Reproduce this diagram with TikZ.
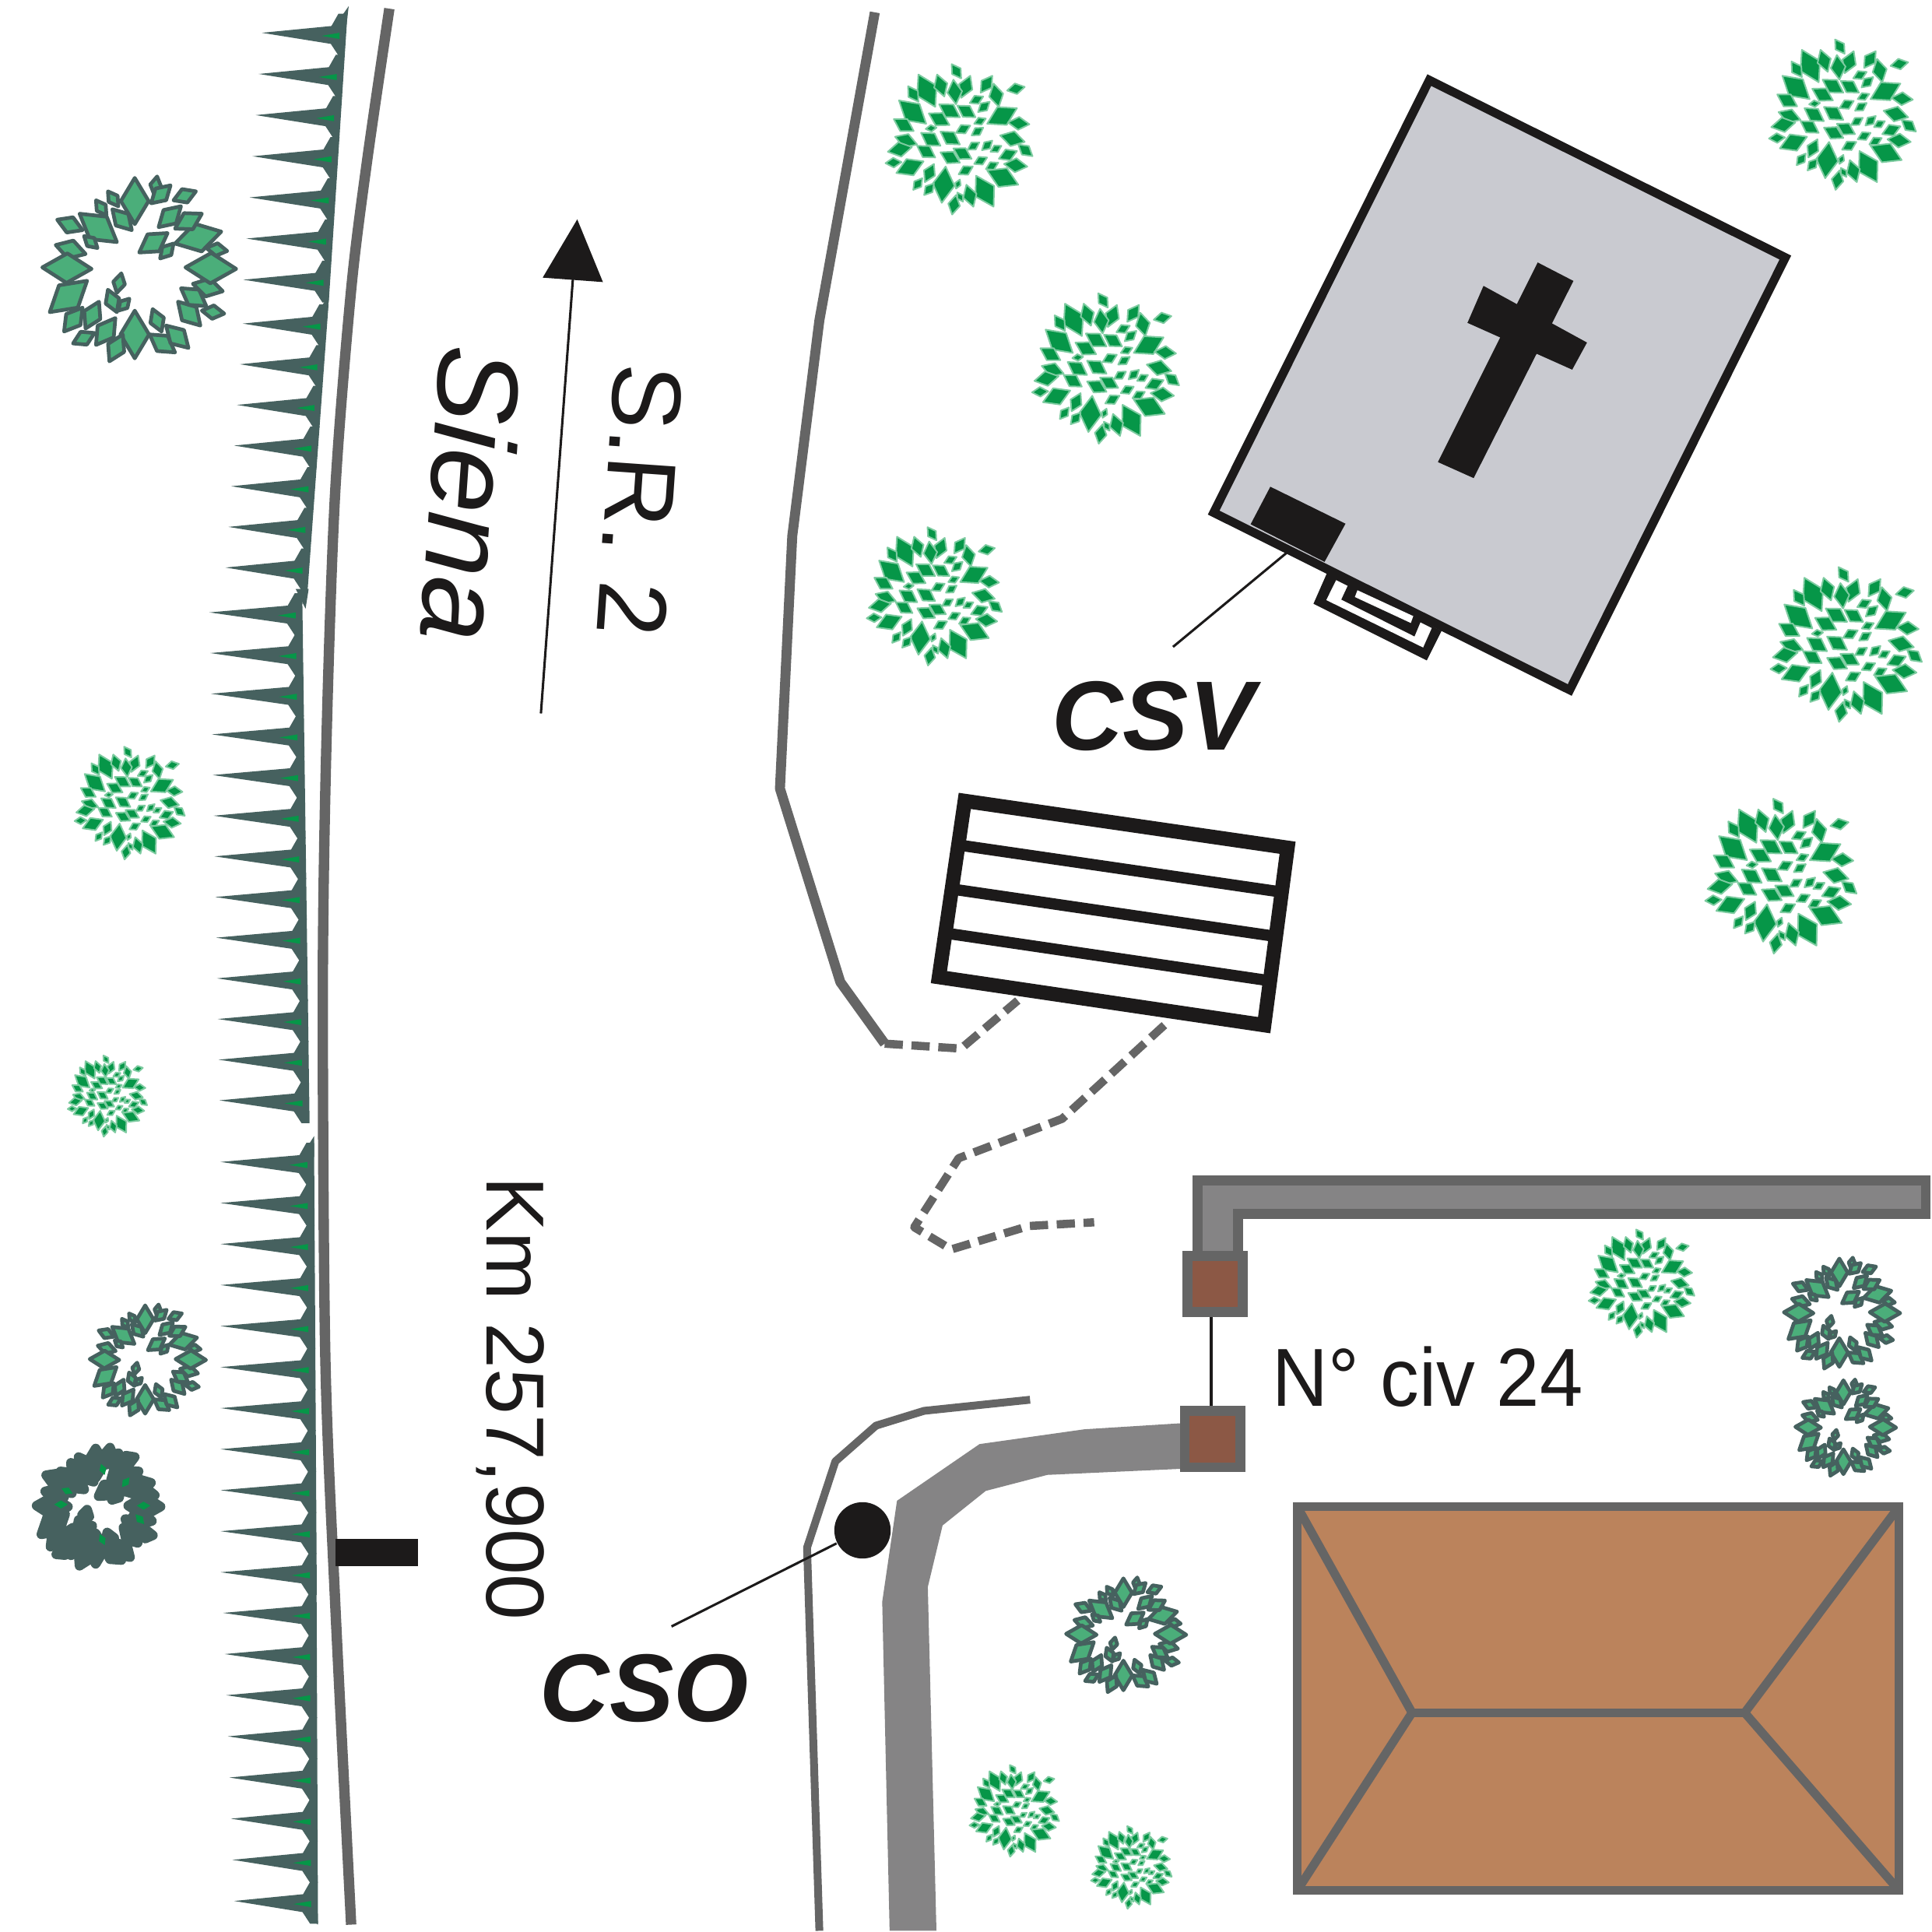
\documentclass[tikz,border=0pt]{standalone}
\usepackage{fontspec}
\setmainfont{Liberation Sans}
\usepackage{tikz}
\usetikzlibrary{calc,arrows.meta}
\definecolor{inkblack}{HTML}{1C1A1A}
\definecolor{roadgrey}{HTML}{656565}
\definecolor{pavegrey}{HTML}{858485}
\definecolor{hedgegrey}{HTML}{46615F}
\definecolor{leafgreen}{HTML}{069648}
\definecolor{leafedge}{HTML}{7DCBA0}
\definecolor{ringgreen}{HTML}{4BAE7A}
\definecolor{churchgrey}{HTML}{C9CAD0}
\definecolor{roofbrown}{HTML}{BB835C}
\definecolor{gatebrown}{HTML}{8C5845}
\tikzset{
    road/.style={draw=roadgrey,line width=2.3pt,line join=round},
    dashroad/.style={road,line width=1.9pt,dash pattern=on 4.2pt off 2pt},
    hedgefill/.style={fill=hedgegrey},
    leader/.style={draw=inkblack,line width=0.55pt},
    gate/.style={draw=roadgrey,fill=gatebrown,line width=2.3pt,minimum width=12.8pt,minimum height=13pt,inner sep=0pt},
    codelabel/.style={text=inkblack,inner sep=0pt},
    placelabel/.style={text=inkblack,inner sep=0pt},
}
% one pointed leaf from (\ax,\ay) to (\bx,\by), drawn with the options given
\newcommand{\leafkite}[1]{
    \pgfmathsetmacro{\mx}{\ax+0.5*(\bx-\ax)}
    \pgfmathsetmacro{\my}{\ay+0.5*(\by-\ay)}
    \pgfmathsetmacro{\px}{-0.3*(\by-\ay)}
    \pgfmathsetmacro{\py}{0.3*(\bx-\ax)}
    \draw[#1] (\ax,\ay) -- (\mx+\px,\my+\py) -- (\bx,\by) -- (\mx-\px,\my-\py) -- cycle;
}
% tree with leaves all over the crown: x, y, size
\newcommand{\solidtree}[3]{
    \begin{scope}[shift={(#1,#2)},scale=#3*0.2105,shift={(-395,-345)}]
    \foreach \ax/\ay/\bx/\by in {240/100/305/225,165/200/270/290,155/480/260/435,345/455/330/595,462/490/530/610,
        505/470/625/525,505/290/620/230,530/135/550/225,480/170/525/105,405/190/440/105,375/120/385/215,312/100/340/185,
        368/60/405/115,582/162/650/148,200/145/240/205,145/272/222/318,150/340/235/370,122/398/215/380,113/442/175/438,
        265/515/300/445,220/545/255/500,262/565/300/520,385/540/400/505,390/555/412/590,425/525/452/610,385/565/370/640,
        585/285/668/292,555/335/650/360,625/370/680/415,550/425/620/395,570/445/660/455,500/465/548/440,320/215/400/265,
        390/220/460/265,280/250/360/295,438/210/490/185,470/245/515/205,455/290/500/270,385/325/440/297,445/335/490/305,
        268/310/310/305,250/325/325/375,325/320/400/370,235/375/305/420,325/400/400/440,375/385/445/425,430/390/475/362,
        485/392/525/355,518/398/560/375,455/445/505/420,395/485/450/455}
        \leafkite{fill=leafgreen,draw=leafedge,line width=0.35pt,line join=round};
    \end{scope}
}
% tree with an open ring of leaves: x, y, size, fill colour, outline
\newcommand{\ringtree}[5]{
    \begin{scope}[shift={(#1,#2)},scale=#3*0.242,shift={(-470,-895)}]
    \foreach \ax/\ay/\bx/\by in {455/750/455/595,520/650/530/590,445/770/380/700,400/690/365/640,360/720/325/670,
        395/810/270/715,280/770/195/735,330/830/285/790,290/850/190/820,310/900/145/895,295/940/170/1045,335/1010/290/1100,
        280/1030/218/1110,410/915/395/980,365/970/395/1045,437/1000/400/1040,455/1040/455/1200,390/1065/325/1155,
        415/1120/370/1210,320/1115/248/1150,515/1035/545/1110,505/1120/590/1180,560/1090/635/1165,600/1010/675/1090,
        610/965/695/1025,755/1050/680/1040,650/950/750/975,625/895/795/900,765/840/695/830,590/815/745/775,590/765/680/715,
        510/680/575/620,535/760/610/690,585/670/660/640,470/845/565/780,540/865/585/815}
        \leafkite{fill=#4,draw=hedgegrey,line width=#5,line join=round};
    \end{scope}
}
% one run of hedge: count, first y, step y, first and last tip x, first and last spine x
\newcommand{\hedgerun}[7]{
    \foreach \i in {1,...,#1} {
        \pgfmathsetmacro{\f}{(\i-1)/(#1-1)}
        \pgfmathsetmacro{\ty}{#2+(\i-1)*#3}
        \pgfmathsetmacro{\tx}{#4+\f*(#5-#4)}
        \pgfmathsetmacro{\sx}{#6+\f*(#7-#6)}
        \pgfmathsetmacro{\sl}{(#7-#6)/((#1-1)*#3)}
        \fill[hedgefill] (\tx,\ty) -- (\sx-12,\ty-5.5) -- (\sx-6.3,\ty-15.5) -- (\sx-15.5*\sl,\ty-15.5) -- (\sx+18.5*\sl,\ty+18.5)
            -- (\sx-6.3,\ty+18.5) -- (\sx-12.5,\ty+9) -- cycle;
        \fill[leafgreen] (\sx-20,\ty+2.5) -- (\sx-5.5,\ty) -- (\sx-5.5,\ty+5) -- cycle;
    }
}
\begin{document}
\begin{tikzpicture}[x=0.01cm,y=-0.01cm]
    \useasboundingbox[fill=white] (0,0) rectangle (1568,1568);
    % hedge along the road
    \hedgerun{7}{26.6}{33.4}{212.5}{197.5}{281}{268}
    \hedgerun{7}{262.6}{33}{197}{183}{265.5}{251}
    \hedgerun{13}{497}{33}{170}{178}{245.5}{251}
    \hedgerun{11}{943}{33.3}{179}{179}{255}{257}
    \hedgerun{8}{1309}{33.4}{181}{190}{257}{258}
    \fill[hedgefill] (271,22) -- (283,5) -- (281,22) -- cycle;
    \fill[hedgefill] (254,258) -- (267,240) -- (265.5,258) -- cycle;
    \fill[hedgefill] (240,478) -- (248,494) -- (250.5,478) -- cycle;
    \fill[hedgefill] (236,490) -- (245,488) -- (245.5,490) -- cycle;
    \fill[hedgefill] (244,939) -- (255,922) -- (255,939) -- cycle;
    \fill[hedgefill] (247,1553) -- (258,1562) -- (258,1553) -- cycle;
    % road edges
    \draw[road,line width=2.4pt] plot[smooth] coordinates {(316,7) (298,130) (285,235) (272,400) (265,600) (262,800) (264,1100) (272,1300) (285,1562)};
    \draw[road] (710,10) -- (665,260) -- (643,435) -- (633,640) -- (682,797) -- (718,847);
    \draw[dashroad] (718,847) -- (780,851) -- (826,812);
    \draw[dashroad] (945,832) -- (862,908) -- (778,940) -- (742,996) -- (772,1014) -- (835,995) -- (888,992);
    \draw[road,line width=1.8pt] (836,1136) -- (750,1145) -- (711,1157) -- (678,1186) -- (655,1256) -- (665,1567);
    % driveways and gates
    \fill[pavegrey] (960,1155) -- (880,1160) -- (795,1172) -- (728,1218) -- (716,1300) -- (722,1567) -- (760,1567)
        -- (753,1288) -- (765,1238) -- (800,1210) -- (850,1197) -- (960,1192) -- cycle;
    \draw[road,fill=pavegrey,line width=2.3pt,line join=miter] (972,1018) -- (972,958) -- (1563,958) -- (1563,985) -- (1005,985) -- (1005,1018);
    \node[gate] (gatetop) at (986,1042) {};
    \node[gate] (gatelow) at (984,1168) {};
    \draw[leader] ($(gatetop.south)+(-3,0)$) -- ($(gatelow.north)+(-1,0)$);
    \node[placelabel,anchor=base west,font=\fontsize{19}{24}\selectfont] (civ) at (1032,1141) {\scalebox{0.94}[1]{N° civ 24}};
    % church
    \draw[draw=inkblack,fill=churchgrey,line width=2pt,line join=miter] (1160,65) -- (1449,209) -- (1274,560) -- (985,416) -- cycle;
    \fill[inkblack] (1248,213) -- (1277,228) -- (1196,388) -- (1167,375) -- cycle;
    \fill[inkblack] (1204,232) -- (1288,278) -- (1276,300) -- (1191,262) -- cycle;
    \fill[inkblack] (1031,395) -- (1092,425) -- (1075,456) -- (1015,425.5) -- cycle;
    \fill[inkblack] (1077,465) -- (1066,490) -- (1158,536) -- (1170,512) -- cycle;
    \fill[white] (1084.4,470.8) -- (1076.4,487) -- (1155,525.5) -- (1162,509.7) -- cycle;
    \fill[inkblack] (1094,475) -- (1088.6,486.6) -- (1148,516.5) -- (1153,504.5) -- cycle;
    \fill[white] (1101.7,479) -- (1099.6,484.5) -- (1145,505.6) -- (1147,500) -- cycle;
    \coordinate (doorfoot) at (1045,448);
    \coordinate (csvfoot) at (952,525);
    \draw[leader] (csvfoot) -- (doorfoot);
    \node[codelabel,font=\fontsize{22.7}{26}\selectfont\bfseries\itshape] (csv) at (936,581) {CSV};
    % steps
    \coordinate (stepa) at (783,650);
    \coordinate (stepb) at (1045,688);
    \coordinate (stepc) at (1026,832);
    \coordinate (stepd) at (762,793);
    \foreach \f in {0.25,0.5,0.75}
        \draw[draw=inkblack,line width=2.6pt] ($(stepa)!\f!(stepd)$) -- ($(stepb)!\f!(stepc)$);
    \draw[draw=inkblack,line width=3.3pt,line join=miter] (stepa) -- (stepb) -- (stepc) -- (stepd) -- cycle;
    % house roof
    \draw[draw=roadgrey,fill=roofbrown,line width=2pt,line join=miter] (1053,1223) rectangle (1541,1534);
    \draw[draw=roadgrey,line width=2pt] (1053,1223) -- (1146,1390) -- (1053,1534);
    \draw[draw=roadgrey,line width=2pt] (1541,1223) -- (1416,1390) -- (1541,1534);
    \draw[draw=roadgrey,line width=2pt] (1146,1390) -- (1416,1390);
    % road marks and labels
    \fill[inkblack] (272,1249) rectangle (339,1271);
    \coordinate (arrowfoot) at (439,579);
    \coordinate (arrowhead) at (468.5,178);
    \draw[draw=inkblack,line width=0.55pt,-{Triangle[length=14pt,width=13.8pt]}] (arrowfoot) -- (arrowhead);
    \node[placelabel,rotate=-94,font=\fontsize{26.7}{30}\selectfont\itshape] (siena) at (383,401) {Siena};
    \node[placelabel,rotate=-94,font=\fontsize{22.6}{26}\selectfont] (sr) at (519,406) {S.R. 2};
    \node[placelabel,rotate=-90,font=\fontsize{19}{22}\selectfont] (km) at (414,1135) {Km 257,900};
    \node[circle,fill=inkblack,minimum size=13pt,inner sep=0pt] (csodot) at (700,1242) {};
    \coordinate (csofoot) at (545,1320);
    \draw[leader] (csofoot) -- (csodot);
    \node[codelabel,font=\fontsize{22.2}{26}\selectfont\bfseries\itshape] (cso) at (523,1370) {CSO};
    % trees
    \solidtree{778}{112}{1}
    \solidtree{1495}{92}{1}
    \solidtree{897}{298}{1}
    \solidtree{758}{483}{0.92}
    \solidtree{1498}{522}{1.03}
    \solidtree{1445}{710}{1.03}
    \solidtree{105}{651}{0.75}
    \solidtree{87}{889}{0.54}
    \solidtree{1332}{1041}{0.72}
    \solidtree{823}{1469}{0.61}
    \solidtree{918}{1515}{0.55}
    \ringtree{113}{217}{1}{ringgreen}{0.85pt}
    \ringtree{120}{1103}{0.6}{ringgreen}{0.85pt}
    \ringtree{80}{1222}{0.64}{hedgegrey}{2.2pt}
    \foreach \ax/\ay/\bx/\by in {82/1188/85/1197,105/1199/99/1207,111/1222/122/1222,110/1229/117/1237,81/1245/85/1254,44/1221/55/1221,50/1208/59/1212}
        \leafkite{fill=leafgreen,draw=none};
    \ringtree{1495}{1065}{0.6}{ringgreen}{0.85pt}
    \ringtree{1498}{1158}{0.52}{ringgreen}{0.85pt}
    \ringtree{914}{1326}{0.62}{ringgreen}{0.85pt}
\end{tikzpicture}
\end{document}
